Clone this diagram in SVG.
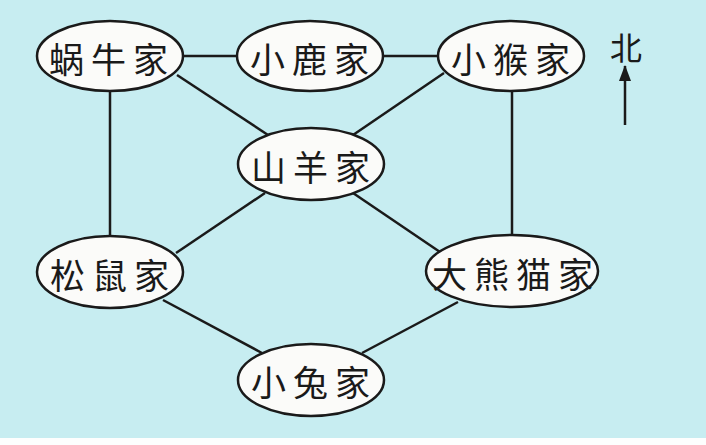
<svg xmlns="http://www.w3.org/2000/svg" width="706" height="445" viewBox="0 0 706 445">
<style>
.n ellipse{fill:#fbfbf9;stroke:#1a1a1a;stroke-width:2.5}
.n text{font-family:"Noto Sans CJK SC","Noto Sans CJK JP",sans-serif;font-size:35px;letter-spacing:7px;fill:#1a1a1a;text-anchor:middle;dominant-baseline:central}
.e line{stroke:#1a1a1a;stroke-width:2.5}
</style>
<defs>
<marker id="ah" markerWidth="16" markerHeight="12" refX="15" refY="6" orient="auto" markerUnits="userSpaceOnUse" viewBox="0 0 16 12">
<path d="M0,0 L16,6 L0,12 Z" fill="#1a1a1a"/>
</marker>
</defs>
<rect width="706" height="445" fill="#fdfefe"/>
<rect width="706" height="438" fill="#c7edf1"/>
<g class="e" id="connectors">
<line x1="183" y1="56" x2="237" y2="56"/>
<line x1="383" y1="56" x2="438" y2="56"/>
<line x1="177" y1="75" x2="268" y2="135"/>
<line x1="444" y1="73" x2="353" y2="135"/>
<line x1="110" y1="92" x2="110" y2="237"/>
<line x1="512" y1="91" x2="512" y2="236"/>
<line x1="265" y1="193" x2="176" y2="253"/>
<line x1="353" y1="193" x2="440" y2="252"/>
<line x1="163" y1="300" x2="262" y2="353"/>
<line x1="458" y1="302" x2="362" y2="353"/>
</g>
<g class="n" id="woniu"><ellipse cx="110" cy="56" rx="73" ry="35"/><text x="112" y="57">蜗牛家</text></g>
<g class="n" id="xiaolu"><ellipse cx="310" cy="56" rx="73" ry="35"/><text x="313" y="57">小鹿家</text></g>
<g class="n" id="xiaohou"><ellipse cx="511" cy="56" rx="73" ry="35"/><text x="514" y="57">小猴家</text></g>
<g class="n" id="shanyang"><ellipse cx="311" cy="164" rx="73" ry="36"/><text x="314" y="165">山羊家</text></g>
<g class="n" id="songshu"><ellipse cx="110" cy="272" rx="73" ry="36"/><text x="113" y="273">松鼠家</text></g>
<g class="n" id="daxiongmao"><ellipse cx="512" cy="271" rx="86" ry="36"/><text x="516" y="272">大熊猫家</text></g>
<g class="n" id="xiaotu"><ellipse cx="311" cy="380" rx="73" ry="36"/><text x="314" y="380">小兔家</text></g>
<g id="north">
<text x="626" y="46" font-family="'Noto Sans CJK SC',sans-serif" font-size="32" fill="#1a1a1a" text-anchor="middle" dominant-baseline="central">北</text>
<line x1="625" y1="125" x2="625" y2="66" stroke="#1a1a1a" stroke-width="2.5" marker-end="url(#ah)"/>
</g>
</svg>
